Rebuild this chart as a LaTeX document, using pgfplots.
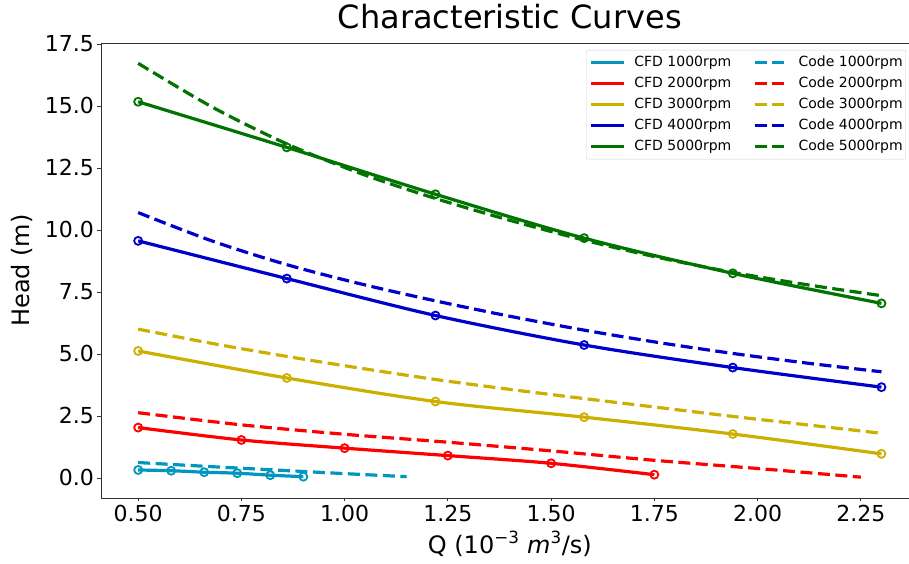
\documentclass[border=0pt]{standalone}
\usepackage{fontspec}
\setmainfont{DejaVu Sans}
\usepackage{pgfplots}
\pgfplotsset{compat=1.18}
\definecolor{cA}{RGB}{0,150,190}
\definecolor{cB}{RGB}{255,0,0}
\definecolor{cC}{RGB}{204,175,0}
\definecolor{cD}{RGB}{0,0,205}
\definecolor{cE}{RGB}{0,115,0}
\begin{document}
\begin{tikzpicture}
\begin{axis}[
  at={(0,0)}, anchor=south west,
  width=817.6pt, height=455pt, scale only axis,
  xmin=0.41, xmax=2.39, ymin=-0.81, ymax=17.54,
  xtick={0.5,0.75,1,1.25,1.5,1.75,2,2.25},
  ytick={0,2.5,5,7.5,10,12.5,15,17.5},
  /pgf/number format/assume math mode=true,
  xticklabel style={/pgf/number format/.cd, fixed, fixed zerofill, precision=2},
  yticklabel style={/pgf/number format/.cd, fixed, fixed zerofill, precision=1},
  tick label style={font=\fontsize{22}{26}\selectfont},
  tick align=outside, xtick pos=bottom, ytick pos=left,
  major tick length=3.5pt,
  tick style={black!80, line width=0.8pt},
  axis line style={black!80, line width=0.8pt},
  title={Characteristic Curves},
  title style={font=\fontsize{32}{38}\selectfont, at={(axis description cs:0.5,1)}, anchor=base, yshift=8pt},
  xlabel={Q (10\textsuperscript{−3} \textit{m}\textsuperscript{3}/s)},
  ylabel={Head (m)},
  every axis x label/.style={at={(axis description cs:0.5,0)}, anchor=base, yshift=-55pt, font=\fontsize{24}{28}\selectfont},
  every axis y label/.style={at={(axis description cs:-0.0966,0.5)}, anchor=center, rotate=90, font=\fontsize{24}{28}\selectfont},
  legend columns=2,
  legend cell align=left,
  legend style={at={(rel axis cs:0,1)}, anchor=north west, xshift=485pt, yshift=-7pt,
    draw=black!18, rounded corners=2pt, fill=white,
    font=\fontsize{14}{16}\selectfont,
    inner xsep=3pt, inner ysep=6pt, row sep=8pt,
    nodes={inner sep=0pt, text height=10pt, text depth=3pt},
    /tikz/every even column/.append style={column sep=22pt},
    /tikz/every odd column/.append style={column sep=9pt}},
  legend image code/.code={\draw[#1] (0pt,0pt) -- (33pt,0pt);},
  every axis plot/.append style={line width=3.2pt},
  codeline/.style={dash pattern=on 12pt off 5.5pt},
  mk/.style={only marks, mark=o, mark size=4pt, mark options={line width=1.8pt, solid}, forget plot},
]
% 1000 rpm
\addplot[cA, smooth] coordinates {(0.5,0.32)(0.58,0.29)(0.66,0.23)(0.74,0.19)(0.82,0.11)(0.90,0.05)};
\addlegendentry{CFD 1000rpm}
\addplot[cA, smooth, codeline] coordinates {(0.5,0.62)(0.66,0.47)(0.82,0.33)(0.98,0.19)(1.15,0.05)};
\addlegendentry{Code 1000rpm}
% 2000 rpm
\addplot[cB, smooth] coordinates {(0.5,2.03)(0.75,1.53)(1.0,1.20)(1.25,0.90)(1.5,0.59)(1.75,0.13)};
\addlegendentry{CFD 2000rpm}
\addplot[cB, smooth, codeline] coordinates {(0.5,2.63)(0.75,2.14)(1.0,1.76)(1.25,1.44)(1.5,1.09)(1.75,0.71)(2.0,0.38)(2.25,0.03)};
\addlegendentry{Code 2000rpm}
% 3000 rpm
\addplot[cC, smooth] coordinates {(0.5,5.12)(0.86,4.03)(1.22,3.08)(1.58,2.45)(1.94,1.77)(2.30,0.97)};
\addlegendentry{CFD 3000rpm}
\addplot[cC, smooth, codeline] coordinates {(0.5,6.0)(0.68,5.42)(0.86,4.90)(1.04,4.42)(1.22,3.97)(1.40,3.57)(1.58,3.20)(1.76,2.84)(1.94,2.48)(2.12,2.14)(2.30,1.80)};
\addlegendentry{Code 3000rpm}
% 4000 rpm
\addplot[cD, smooth] coordinates {(0.5,9.56)(0.86,8.04)(1.22,6.55)(1.58,5.36)(1.94,4.45)(2.30,3.66)};
\addlegendentry{CFD 4000rpm}
\addplot[cD, smooth, codeline] coordinates {(0.5,10.70)(0.68,9.55)(0.86,8.60)(1.04,7.82)(1.22,7.14)(1.40,6.52)(1.58,5.96)(1.76,5.46)(1.94,5.02)(2.12,4.63)(2.30,4.28)};
\addlegendentry{Code 4000rpm}
% 5000 rpm
\addplot[cE, smooth] coordinates {(0.5,15.17)(0.86,13.33)(1.22,11.44)(1.58,9.67)(1.94,8.25)(2.30,7.04)};
\addlegendentry{CFD 5000rpm}
\addplot[cE, smooth, codeline] coordinates {(0.5,16.72)(0.68,14.95)(0.86,13.47)(1.04,12.27)(1.22,11.27)(1.40,10.39)(1.58,9.59)(1.76,8.89)(1.94,8.29)(2.12,7.79)(2.30,7.35)};
\addlegendentry{Code 5000rpm}
% markers
\addplot[cA, mk] coordinates {(0.5,0.32)(0.58,0.29)(0.66,0.23)(0.74,0.19)(0.82,0.11)(0.90,0.05)};
\addplot[cB, mk] coordinates {(0.5,2.03)(0.75,1.53)(1.0,1.20)(1.25,0.90)(1.5,0.59)(1.75,0.13)};
\addplot[cC, mk] coordinates {(0.5,5.12)(0.86,4.03)(1.22,3.08)(1.58,2.45)(1.94,1.77)(2.30,0.97)};
\addplot[cD, mk] coordinates {(0.5,9.56)(0.86,8.04)(1.22,6.55)(1.58,5.36)(1.94,4.45)(2.30,3.66)};
\addplot[cE, mk] coordinates {(0.5,15.17)(0.86,13.33)(1.22,11.44)(1.58,9.67)(1.94,8.25)(2.30,7.04)};
\end{axis}
\pgfresetboundingbox
\path[use as bounding box] (-101pt,-66pt) rectangle (808pt,498pt);
\end{tikzpicture}
\end{document}
